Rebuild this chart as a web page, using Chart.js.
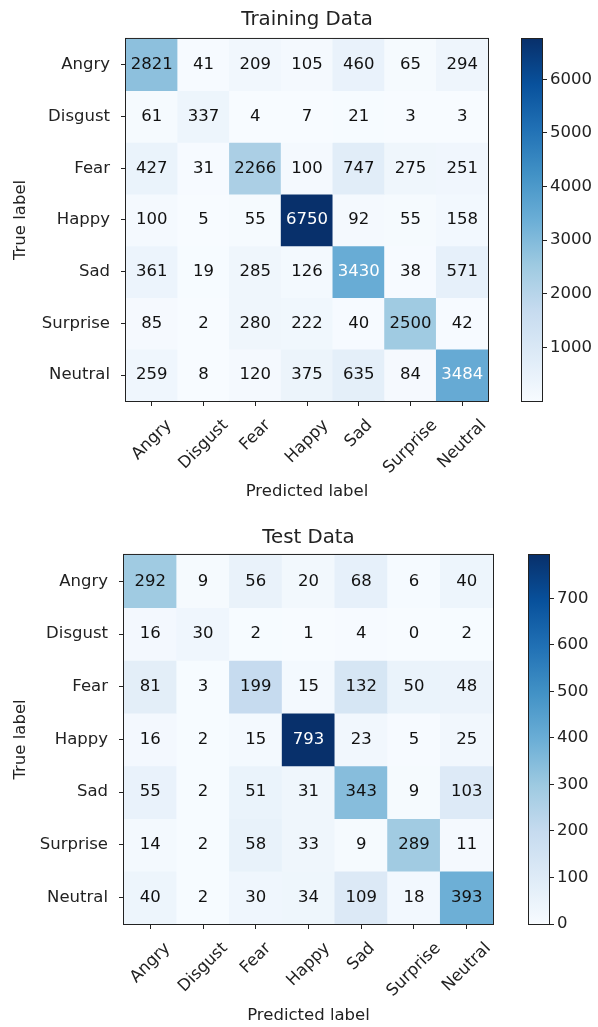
<!DOCTYPE html>
<html>
<head>
<meta charset="utf-8">
<script src="https://cdn.jsdelivr.net/npm/chart.js@4"></script>
<style>
  body { margin: 0; background: #fff; width: 598px; height: 1027px; position: relative; overflow: hidden; }
  canvas { position: absolute; }
</style>
</head>
<body>
<canvas id="trainMatrix" width="500" height="502" style="left:0;top:0"></canvas>
<canvas id="trainBar" width="98" height="440" style="left:500px;top:0"></canvas>
<canvas id="testMatrix" width="510" height="510" style="left:0;top:516px"></canvas>
<canvas id="testBar" width="88" height="448" style="left:510px;top:516px"></canvas>
<script>
const classes = ['Angry', 'Disgust', 'Fear', 'Happy', 'Sad', 'Surprise', 'Neutral'];

// rows = true label, columns = predicted label
const trainCounts = [
  [2821, 41, 209, 105, 460, 65, 294],
  [61, 337, 4, 7, 21, 3, 3],
  [427, 31, 2266, 100, 747, 275, 251],
  [100, 5, 55, 6750, 92, 55, 158],
  [361, 19, 285, 126, 3430, 38, 571],
  [85, 2, 280, 222, 40, 2500, 42],
  [259, 8, 120, 375, 635, 84, 3484]
];
const testCounts = [
  [292, 9, 56, 20, 68, 6, 40],
  [16, 30, 2, 1, 4, 0, 2],
  [81, 3, 199, 15, 132, 50, 48],
  [16, 2, 15, 793, 23, 5, 25],
  [55, 2, 51, 31, 343, 9, 103],
  [14, 2, 58, 33, 9, 289, 11],
  [40, 2, 30, 34, 109, 18, 393]
];
const trainBarTicks = [1000, 2000, 3000, 4000, 5000, 6000];
const testBarTicks = [0, 100, 200, 300, 400, 500, 600, 700];

const FONT = 16.5;
Chart.defaults.font.family = '"DejaVu Sans", sans-serif';
Chart.defaults.font.size = FONT;
Chart.defaults.color = '#222';

// matplotlib "Blues"
const bluesStops = ['#f7fbff', '#deebf7', '#c6dbef', '#9ecae1', '#6baed6', '#4292c6', '#2171b5', '#08519c', '#08306b'];
function hexRgb(h) { return [1, 3, 5].map(i => parseInt(h.slice(i, i + 2), 16)); }
function blues(t) {
  t = Math.max(0, Math.min(1, t));
  const s = t * 8, i = Math.min(7, Math.floor(s)), f = s - i;
  const a = hexRgb(bluesStops[i]), b = hexRgb(bluesStops[i + 1]);
  const c = a.map((v, k) => Math.round(v + (b[k] - v) * f));
  return `rgb(${c[0]},${c[1]},${c[2]})`;
}

const frame = {
  id: 'frame',
  afterDraw(chart) {
    const a = chart.chartArea, ctx = chart.ctx;
    ctx.save();
    ctx.strokeStyle = '#222';
    ctx.lineWidth = 1;
    ctx.strokeRect(a.left - 0.5, a.top - 0.5, a.right - a.left + 1, a.bottom - a.top + 1);
    ctx.restore();
  }
};

const cellText = {
  id: 'cellText',
  afterDatasetsDraw(chart) {
    const ctx = chart.ctx;
    const thresh = chart.options.plugins.cellText.max / 2;
    ctx.save();
    ctx.font = FONT + 'px "DejaVu Sans"';
    ctx.textAlign = 'center';
    ctx.textBaseline = 'middle';
    chart.data.datasets.forEach((ds, r) => {
      chart.getDatasetMeta(r).data.forEach((bar, c) => {
        const v = ds.counts[c];
        ctx.fillStyle = v > thresh ? '#fff' : '#111';
        ctx.fillText(String(v), bar.x, (bar.y + bar.base) / 2);
      });
    });
    ctx.restore();
  }
};

// rotated x labels, centred under the tick like matplotlib's rotation=45
const xLabels = {
  id: 'xLabels',
  afterDraw(chart) {
    const xs = chart.scales.x, ctx = chart.ctx;
    ctx.save();
    ctx.font = FONT + 'px "DejaVu Sans"';
    ctx.fillStyle = '#222';
    ctx.textAlign = 'center';
    ctx.textBaseline = 'middle';
    classes.forEach((lab, i) => {
      const x = xs.getPixelForValue(i);
      const w = ctx.measureText(lab).width;
      const cy = xs.top + 15 + (w + 19) * Math.SQRT1_2 / 2;
      ctx.save();
      ctx.translate(x, cy);
      ctx.rotate(-Math.PI / 4);
      ctx.fillText(lab, 0, 0);
      ctx.restore();
    });
    ctx.restore();
  }
};

function matrixChart(id, title, counts, geo) {
  const flat = counts.flat();
  const vmin = Math.min(...flat), vmax = Math.max(...flat);
  const datasets = counts.map((row, r) => ({
    label: classes[r],
    counts: row,
    data: row.map(() => [r - 0.5, r + 0.5]),
    backgroundColor: row.map(v => blues((v - vmin) / (vmax - vmin))),
    borderWidth: 0,
    barPercentage: 1,
    categoryPercentage: 1
  }));
  new Chart(document.getElementById(id), {
    type: 'bar',
    data: { labels: classes, datasets },
    options: {
      responsive: false,
      animation: false,
      events: [],
      layout: { padding: { top: geo.padTop, right: geo.padRight, left: 0, bottom: 0 } },
      plugins: {
        legend: { display: false },
        tooltip: { enabled: false },
        title: {
          display: true, text: title, color: '#222', fullSize: false,
          font: { size: 19.8, weight: 'normal' },
          padding: { top: 0, bottom: geo.titleGap }
        },
        cellText: { max: vmax }
      },
      scales: {
        x: {
          stacked: true,
          offset: true,
          grid: { drawOnChartArea: false, offset: false, tickLength: 5, color: '#222' },
          border: { color: '#222' },
          ticks: { display: false },
          title: { display: true, text: 'Predicted label', color: '#222', padding: 0 },
          afterFit: s => { s.height = geo.xAxisH; }
        },
        y: {
          type: 'linear',
          stacked: false,
          min: -0.5,
          max: 6.5,
          reverse: true,
          grid: { drawOnChartArea: false, tickLength: 5, color: '#222' },
          border: { color: '#222' },
          afterBuildTicks: s => { s.ticks = classes.map((_, i) => ({ value: i })); },
          ticks: { callback: v => classes[v], padding: 11, color: '#222' },
          title: { display: true, text: 'True label', color: '#222', padding: { top: 10.6, bottom: 0 } },
          afterFit: s => { s.width = geo.yAxisW; }
        }
      }
    },
    plugins: [cellText, frame, xLabels]
  });
}

function colorbarChart(id, counts, ticks, geo) {
  const flat = counts.flat();
  const vmin = Math.min(...flat), vmax = Math.max(...flat);
  const canvas = document.getElementById(id);
  new Chart(canvas, {
    type: 'bar',
    data: {
      labels: [''],
      datasets: [{
        data: [[vmin, vmax]],
        borderWidth: 0,
        barPercentage: 1,
        categoryPercentage: 1,
        backgroundColor: c => {
          const a = c.chart.chartArea;
          if (!a) return bluesStops[0];
          const g = c.chart.ctx.createLinearGradient(0, a.bottom, 0, a.top);
          bluesStops.forEach((col, i) => g.addColorStop(i / 8, col));
          return g;
        }
      }]
    },
    options: {
      responsive: false,
      animation: false,
      events: [],
      layout: { padding: { left: geo.left, top: geo.top, bottom: geo.bottom, right: 0 } },
      plugins: { legend: { display: false }, tooltip: { enabled: false } },
      scales: {
        x: { display: false },
        y: {
          position: 'right',
          min: vmin,
          max: vmax,
          grid: { drawOnChartArea: false, tickLength: 5, color: '#222' },
          border: { color: '#222' },
          afterBuildTicks: s => { s.ticks = ticks.map(v => ({ value: v })); },
          ticks: { callback: v => String(v), padding: 3, color: '#222' },
          afterFit: s => { s.width = canvas.width - geo.left - geo.barW; }
        }
      }
    },
    plugins: [frame]
  });
}

matrixChart('trainMatrix', 'Training Data', trainCounts,
  { padTop: 8.1, titleGap: 7.1, padRight: 12, yAxisW: 126, xAxisH: 101 });
colorbarChart('trainBar', trainCounts, trainBarTicks, { left: 22, top: 39, bottom: 39, barW: 20 });

matrixChart('testMatrix', 'Test Data', testCounts,
  { padTop: 10.1, titleGap: 5.1, padRight: 17, yAxisW: 124, xAxisH: 102 });
colorbarChart('testBar', testCounts, testBarTicks, { left: 19, top: 39, bottom: 40, barW: 20 });
</script>
</body>
</html>
